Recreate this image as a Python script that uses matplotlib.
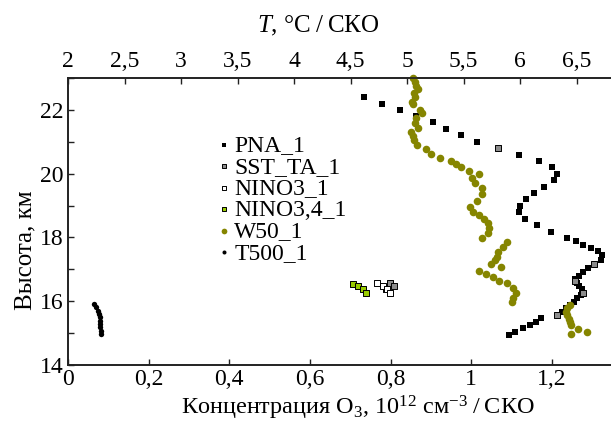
import matplotlib
matplotlib.use("Agg")
import matplotlib.pyplot as plt
from matplotlib.ticker import MultipleLocator, FixedLocator, FuncFormatter

plt.rcParams['font.family'] = ['Liberation Serif', 'DejaVu Serif']
plt.rcParams['mathtext.fontset'] = 'custom'
plt.rcParams['mathtext.rm'] = 'Liberation Serif'
plt.rcParams['mathtext.it'] = 'Liberation Serif:italic'

# ---- data (x = O3 concentration / СКО, y = height, km) ----
pna_x = [1.094, 1.108, 1.128, 1.146, 1.160, 1.174, 1.224, 1.234, 1.245, 1.255,
         1.263, 1.271, 1.274, 1.267, 1.261, 1.258, 1.267, 1.278, 1.290, 1.322,
         1.324, 1.315, 1.298, 1.276, 1.260, 1.237, 1.198, 1.162, 1.132, 1.119,
         1.121, 1.135, 1.155, 1.180, 1.205, 1.212, 1.200, 1.168, 1.118, 1.015,
         0.975, 0.938, 0.904, 0.864, 0.822, 0.779, 0.735]
pna_y = [14.94, 15.05, 15.15, 15.25, 15.36, 15.46, 15.67, 15.78, 15.88, 15.98,
         16.09, 16.19, 16.37, 16.48, 16.58, 16.71, 16.80, 16.92, 17.05, 17.29,
         17.45, 17.57, 17.67, 17.77, 17.88, 17.97, 18.18, 18.38, 18.58, 18.79,
         18.98, 19.19, 19.39, 19.59, 19.79, 20.00, 20.20, 20.39, 20.59, 20.99,
         21.20, 21.40, 21.61, 21.81, 21.99, 22.20, 22.41]

sst_x = [1.213, 1.278, 1.257, 1.305, 1.066, 0.798, 0.808, 0.789]
sst_y = [15.57, 16.27, 16.64, 17.18, 20.79, 16.57, 16.47, 16.37]

nino3_x = [0.767, 0.780, 0.791, 0.799]
nino3_y = [16.57, 16.47, 16.37, 16.26]

nino34_x = [0.706, 0.720, 0.731, 0.739]
nino34_y = [16.55, 16.47, 16.37, 16.26]

w50_x = [0.856, 0.861, 0.863, 0.867, 0.858, 0.860, 0.852, 0.855, 0.873, 0.878,
         0.863, 0.861, 0.867, 0.850, 0.855, 0.858, 0.866, 0.888, 0.899, 0.922,
         0.950, 0.962, 0.974, 0.994, 1.020, 1.001, 1.009, 1.026, 1.026, 1.013,
         0.997, 1.005, 1.020, 1.031, 1.041, 1.045, 1.042, 1.027, 1.088, 1.078,
         1.067, 1.063, 1.059, 1.049, 1.073, 1.020, 1.036, 1.055, 1.068, 1.088,
         1.104, 1.111, 1.104, 1.100,
         1.245, 1.237, 1.235, 1.238, 1.243, 1.245, 1.246, 1.264, 1.286, 1.246]
w50_y = [23.00, 22.88, 22.75, 22.64, 22.52, 22.39, 22.25, 22.18, 21.99, 21.89,
         21.73, 21.58, 21.42, 21.31, 21.18, 21.05, 20.90, 20.76, 20.61, 20.50,
         20.40, 20.29, 20.20, 20.09, 19.99, 19.85, 19.71, 19.54, 19.36, 19.15,
         18.96, 18.81, 18.70, 18.57, 18.44, 18.29, 18.13, 17.97, 17.85, 17.71,
         17.55, 17.39, 17.29, 17.17, 17.08, 16.96, 16.85, 16.75, 16.64, 16.56,
         16.42, 16.27, 16.11, 15.98,
         15.88, 15.78, 15.67, 15.57, 15.44, 15.35, 15.25, 15.13, 15.05, 14.96]

t500_x = [0.0645, 0.069, 0.074, 0.078, 0.079, 0.080, 0.080, 0.079, 0.081, 0.082]
t500_y = [15.90, 15.81, 15.70, 15.60, 15.50, 15.39, 15.29, 15.18, 15.08, 14.97]

x_ticks = [0, 0.2, 0.4, 0.6, 0.8, 1.0, 1.2]
top_ticks = [2, 2.5, 3, 3.5, 4, 4.5, 5, 5.5, 6, 6.5]
y_ticks = [14, 16, 18, 20, 22]

FS = 17
LFS = 17.5

# ---- figure ----
fig = plt.figure(figsize=(6.11, 4.24), dpi=100)
ax = fig.add_axes([68/611, 59/424, 1 - 68/611, (346-59)/424])

ax.scatter(pna_x, pna_y, marker='s', s=22, color='black', linewidths=0, label='PNA_1', zorder=3)
ax.scatter(sst_x, sst_y, marker='s', s=22, facecolor='#8c8c8c', edgecolor='black', linewidths=0.7, label='SST_TA_1', zorder=4)
ax.scatter(nino3_x, nino3_y, marker='s', s=22, facecolor='white', edgecolor='black', linewidths=0.7, label='NINO3_1', zorder=4)
ax.scatter(nino34_x, nino34_y, marker='s', s=22, facecolor='#99cc00', edgecolor='black', linewidths=0.7, label='NINO3,4_1', zorder=4)
ax.scatter(w50_x, w50_y, marker='o', s=30, color='#858500', linewidths=0, label='W50_1', zorder=5, clip_on=False)
ax.scatter(t500_x, t500_y, marker='o', s=15, color='black', linewidths=0, label='T500_1', zorder=5)

ax.set_xlim(0, 543/403.3)
ax.set_ylim(14, 23)
ax.xaxis.set_major_locator(FixedLocator(x_ticks))
ax.yaxis.set_major_locator(FixedLocator(y_ticks))
ax.yaxis.set_minor_locator(MultipleLocator(1))
fmt = FuncFormatter(lambda v, p: ('%g' % v).replace('.', ','))
ax.xaxis.set_major_formatter(fmt)
ax.yaxis.set_major_formatter(fmt)
ax.tick_params(axis='both', which='both', direction='in', length=4.5, width=1, labelsize=FS, pad=3, colors='#222222', labelcolor='black')
ax.tick_params(axis='x', pad=3)

ax2 = ax.twiny()
ax2.set_xlim(2, 2 + 543/113.0)
ax2.xaxis.set_major_locator(FixedLocator(top_ticks))
ax2.xaxis.set_major_formatter(fmt)
ax2.tick_params(axis='x', direction='in', length=4.5, width=1, labelsize=FS, pad=4, colors='#222222', labelcolor='black')

for a in (ax, ax2):
    for sp in a.spines.values():
        sp.set_linewidth(1.2)
        sp.set_color('#222222')
    a.spines['right'].set_visible(False)

ax.set_xlabel('Концентрация O$_3$, 10$^{12}$ см$^{-3}$\u2009/\u2009СКО', fontsize=LFS)
ax.xaxis.set_label_coords(0.534, -0.100)
ax.set_ylabel('Высота, км', fontsize=18)
ax.yaxis.set_label_coords(-0.058, 0.40)
ax2.set_xlabel('$T$, °C\u2009/\u2009СКО', fontsize=18)
ax2.xaxis.set_label_coords(0.46, 1.16)

leg = ax.legend(loc='upper left', bbox_to_anchor=(0.252, 0.836), frameon=False, fontsize=FS,
                handletextpad=0.05, labelspacing=0.0, markerscale=0.75, borderaxespad=0,
                handlelength=0.8, scatterpoints=1)

fig.savefig('out.png', dpi=100)
